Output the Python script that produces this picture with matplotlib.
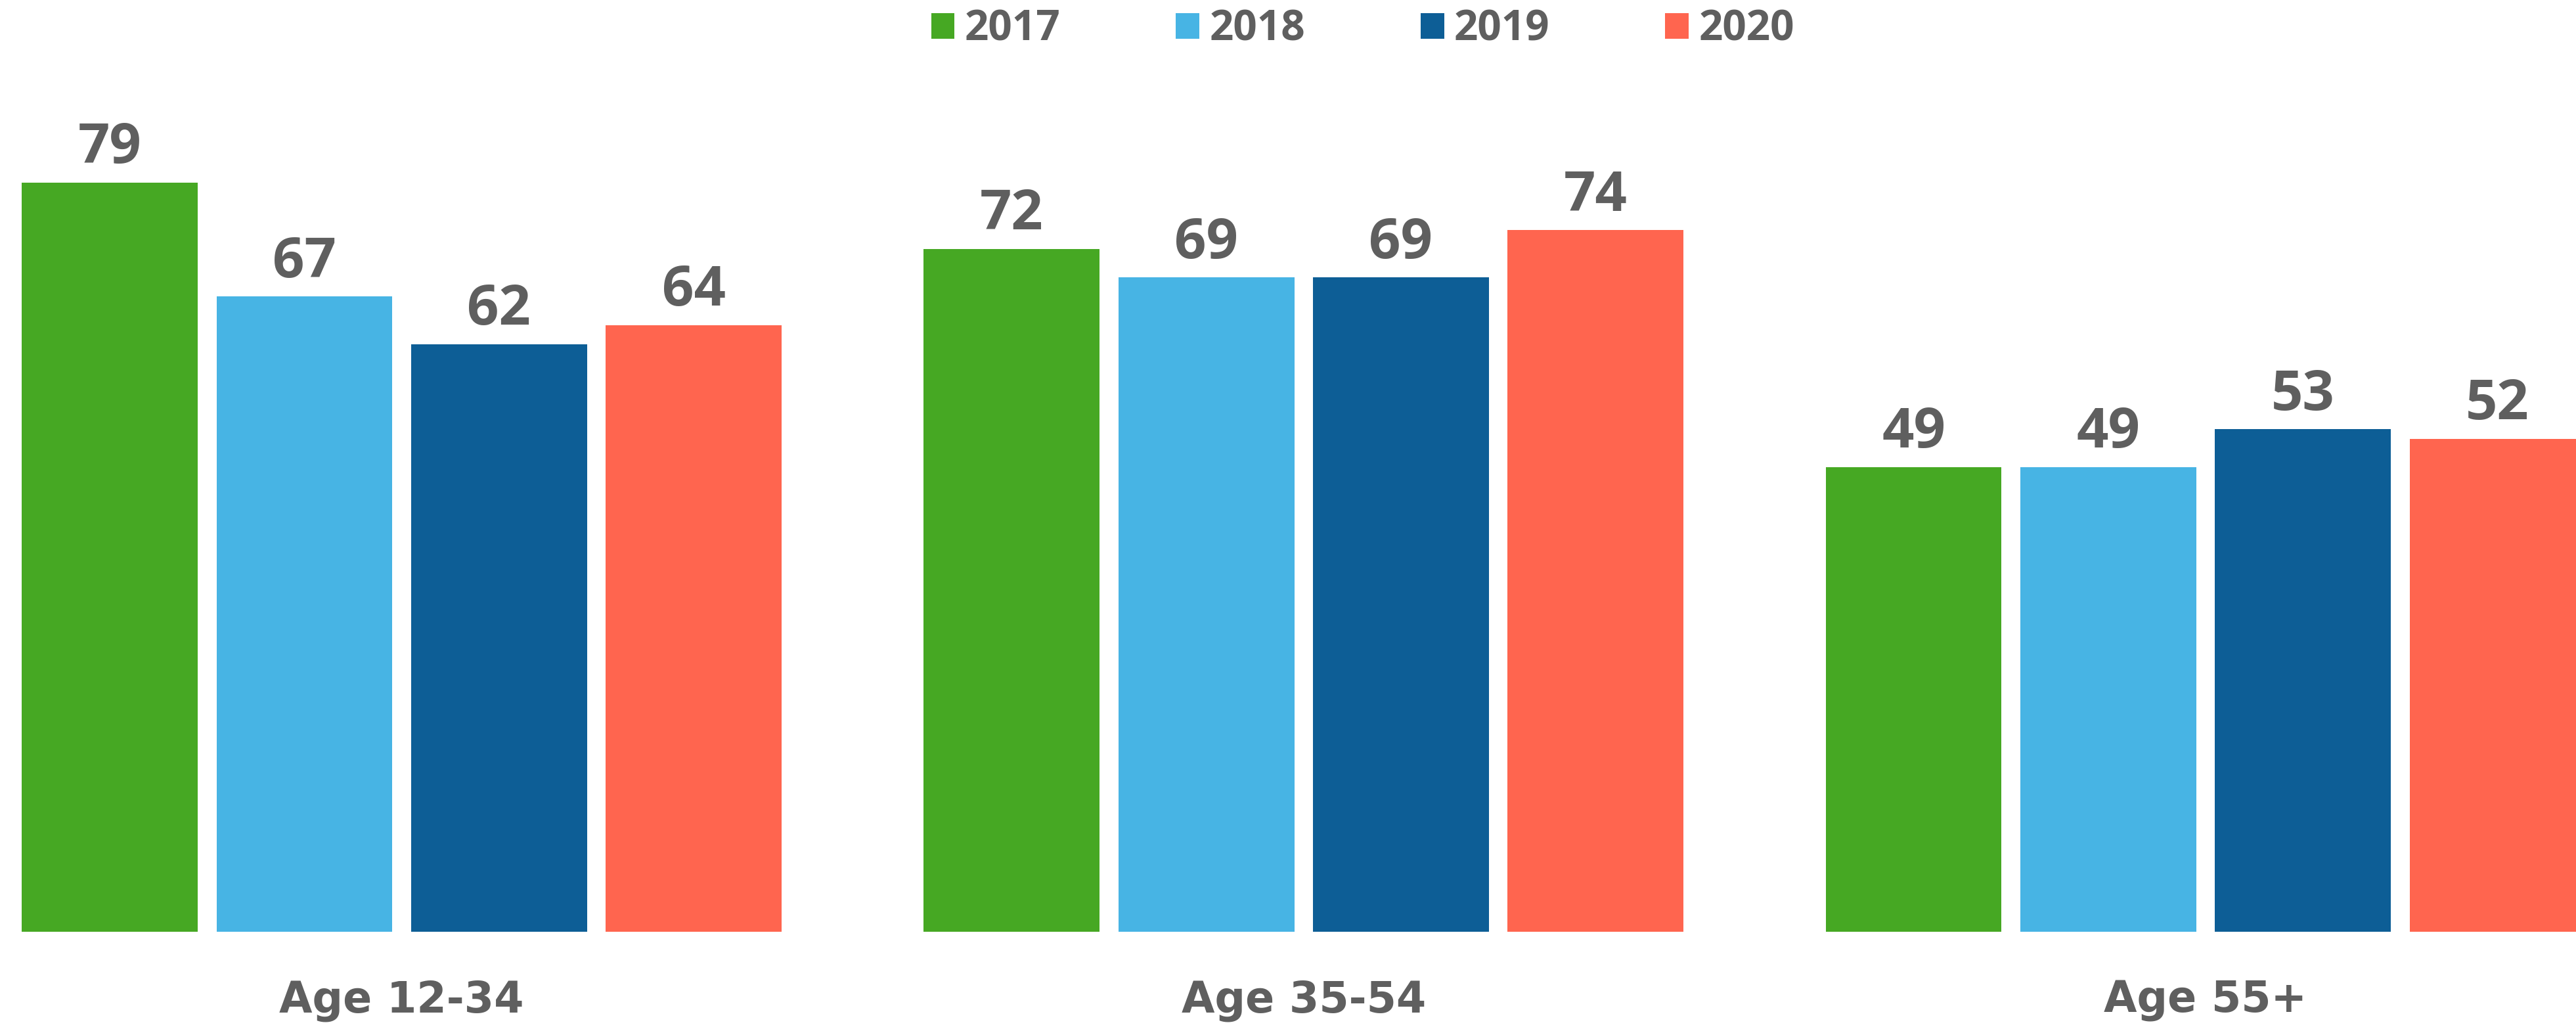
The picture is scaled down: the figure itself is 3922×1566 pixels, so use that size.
import matplotlib
matplotlib.use("Agg")
import matplotlib.pyplot as plt
import numpy as np

categories = ["Age 12-34", "Age 35-54", "Age 55+"]
years = ["2017", "2018", "2019", "2020"]
values = {
    "2017": [79, 72, 49],
    "2018": [67, 69, 49],
    "2019": [62, 69, 53],
    "2020": [64, 74, 52],
}
colors = ["#46A823", "#47B4E4", "#0D5E96", "#FF654F"]
text_color = "#5F5F5F"

plt.rcParams['font.family'] = ['Open Sans', 'DejaVu Sans']

fig = plt.figure(figsize=(39.22, 15.66), dpi=100)
ax = fig.add_axes([0, 0.0942, 1, 0.9058])

x = np.arange(len(categories))
step = 0.2158
width = 0.195
for i, (yr, c) in enumerate(zip(years, colors)):
    pos = x + (i - 1.5) * step
    bars = ax.bar(pos, values[yr], width=width, color=c, label=yr)
    for b, v in zip(bars, values[yr]):
        ax.annotate(str(v), (b.get_x() + b.get_width() / 2, v),
                    xytext=(0, 7), textcoords="offset points",
                    ha="center", va="bottom", fontsize=61,
                    fontweight="bold", color=text_color)

ax.set_xlim(-0.4454, 2.4107)
ax.set_ylim(0, 98.27)
ax.set_xticks(x)
ax.set_xticklabels(categories, fontsize=47, fontweight="bold", color=text_color,
                   family=['DejaVu Sans'])
ax.tick_params(axis="x", length=0, pad=52)
ax.set_yticks([])
for s in ax.spines.values():
    s.set_visible(False)

leg = fig.legend(loc="center", bbox_to_anchor=(0.529, 0.971), ncol=4,
                 frameon=False, prop={"size": 46, "weight": "bold"},
                 handlelength=0.56, handleheight=0.56, handletextpad=0.24,
                 columnspacing=2.75)
for t in leg.get_texts():
    t.set_color(text_color)

fig.savefig("out.png", dpi=100)
